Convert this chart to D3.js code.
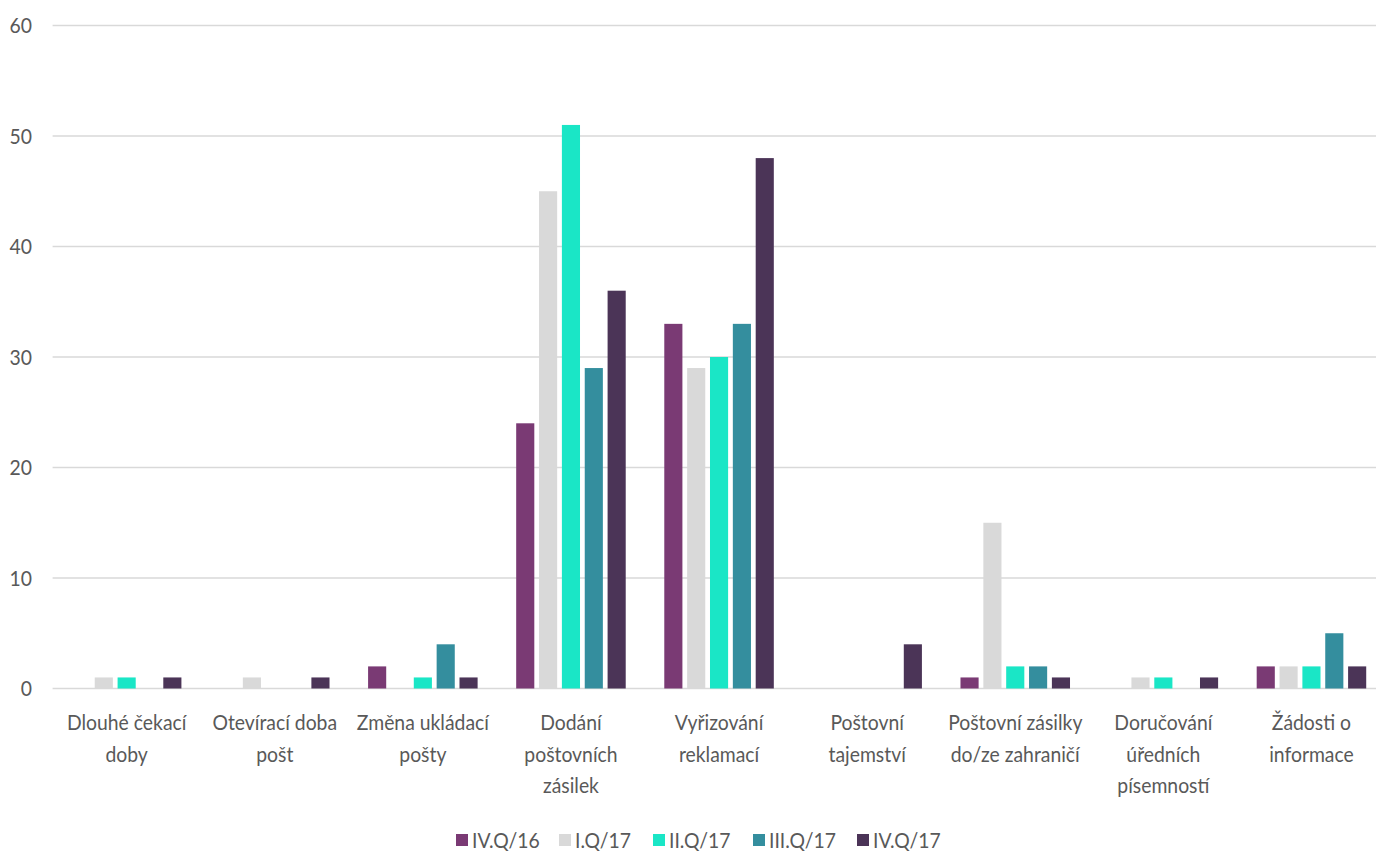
<!DOCTYPE html>
<html>
<head>
<meta charset="utf-8">
<script src="https://cdn.jsdelivr.net/npm/d3@7"></script>
<style>
  html, body { margin: 0; padding: 0; background: #fff; }
  svg { display: block; font-family: Lato, "Open Sans", sans-serif; }
</style>
</head>
<body>
<svg id="chart" width="1376" height="851"></svg>
<script>
// Categories (each label split into display lines)
const categories = [
  ["Dlouhé čekací", "doby"],
  ["Otevírací doba", "pošt"],
  ["Změna ukládací", "pošty"],
  ["Dodání", "poštovních", "zásilek"],
  ["Vyřizování", "reklamací"],
  ["Poštovní", "tajemství"],
  ["Poštovní zásilky", "do/ze zahraničí"],
  ["Doručování", "úředních", "písemností"],
  ["Žádosti o", "informace"]
];

const seriesNames = ["IV.Q/16", "I.Q/17", "II.Q/17", "III.Q/17", "IV.Q/17"];
const seriesColors = ["#7a3a74", "#d9d9d9", "#1ae6c6", "#348e9e", "#4b3457"];

const q4_16 = [0, 0, 2, 24, 33, 0, 1, 0, 2];
const q1_17 = [1, 1, 0, 45, 29, 0, 15, 1, 2];
const q2_17 = [1, 0, 1, 51, 30, 0, 2, 1, 2];
const q3_17 = [0, 0, 4, 29, 33, 0, 2, 0, 5];
const q4_17 = [1, 1, 1, 36, 48, 4, 1, 1, 2];

const yTicks = [0, 10, 20, 30, 40, 50, 60];

const seriesValues = [q4_16, q1_17, q2_17, q3_17, q4_17];

const svg = d3.select("#chart");
const W = 1376, H = 851;
const plotLeft = 52.6, plotRight = 1385.5, plotTop = 25.5, plotBottom = 688.5;
const textColor = "#595959";
const fontSize = 22, squeeze = 0.88;

const catKeys = categories.map(c => c.join(" "));

const x0 = d3.scaleBand()
  .domain(catKeys)
  .range([plotLeft, plotRight])
  .paddingInner(0).paddingOuter(0);

const x1 = d3.scaleBand()
  .domain(seriesNames)
  .range([0, x0.bandwidth()])
  .paddingInner(0.207)
  .paddingOuter(0.844);

const y = d3.scaleLinear()
  .domain([0, 60])
  .range([plotBottom, plotTop]);

// Text is drawn slightly condensed horizontally
function label(parent, x, yPos, anchor) {
  return parent.append("g")
    .attr("transform", `translate(${x},${yPos}) scale(${squeeze},1)`)
    .append("text")
    .attr("text-anchor", anchor)
    .attr("fill", textColor)
    .attr("font-size", fontSize);
}

// Gridlines
svg.append("g")
  .selectAll("line")
  .data(yTicks)
  .join("line")
  .attr("x1", plotLeft)
  .attr("x2", W)
  .attr("y1", d => y(d))
  .attr("y2", d => y(d))
  .attr("stroke", "#d9d9d9")
  .attr("stroke-width", 1.5);

// Y tick labels
const yAxisG = svg.append("g");
yTicks.forEach(t => {
  label(yAxisG, 32, y(t), "end").attr("dy", "0.36em").text(t);
});

// Bars
const groups = svg.append("g")
  .selectAll("g")
  .data(catKeys)
  .join("g")
  .attr("transform", d => `translate(${x0(d)},0)`);

groups.selectAll("rect")
  .data((d, i) => seriesNames.map((s, si) => ({ s, v: seriesValues[si][i], c: seriesColors[si] })))
  .join("rect")
  .filter(d => d.v > 0)
  .attr("x", d => x1(d.s))
  .attr("width", x1.bandwidth())
  .attr("y", d => y(d.v))
  .attr("height", d => y(0) - y(d.v))
  .attr("fill", d => d.c);

// Category labels
const catG = svg.append("g");
categories.forEach((lines, i) => {
  const cx = x0(catKeys[i]) + x0.bandwidth() / 2;
  lines.forEach((ln, li) => {
    label(catG, cx, 722.5 + li * 31.2, "middle").attr("dy", "0.36em").text(ln);
  });
});

// Legend
const legendX = [456, 559, 653, 753, 857];
const legG = svg.append("g");
seriesNames.forEach((name, i) => {
  legG.append("rect")
    .attr("x", legendX[i]).attr("y", 834)
    .attr("width", 12).attr("height", 12)
    .attr("fill", seriesColors[i]);
  label(legG, legendX[i] + 16, 840, "start").attr("dy", "0.36em").text(name);
});
</script>
</body>
</html>
